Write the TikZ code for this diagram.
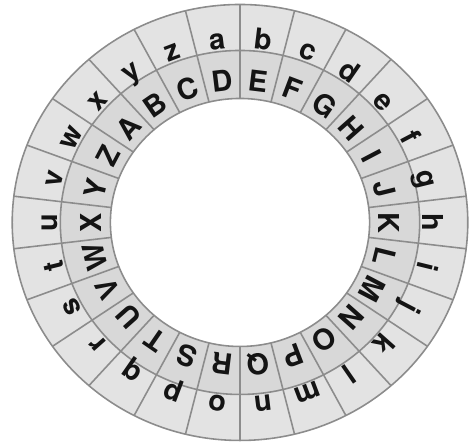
\documentclass[tikz,border=0pt]{standalone}
\usepackage{fontspec}
\setsansfont{TeX Gyre Heros}
\usepackage{tikz}
\usetikzlibrary{calc}
\usepackage{xcolor}
\definecolor{WheelOuter}{HTML}{E3E3E3}
\definecolor{WheelInner}{HTML}{D8D8D8}
\definecolor{WheelLine}{HTML}{8C8C8C}
\definecolor{WheelText}{HTML}{141414}

\begin{document}
\begin{tikzpicture}[
  x=1.045cm,y=1cm,
  ring/.style={draw=WheelLine,line width=0.45pt},
  glyph/.style={font=\sffamily\bfseries\fontsize{8.2}{9}\selectfont,
    text=WheelText,inner sep=0pt,text height=1.5ex,text depth=0.2ex}
]
\useasboundingbox (0cm,0cm) rectangle (4.75cm,4.43cm);

\begin{scope}[shift={(2.40cm,2.205cm)}]
% the two discs: outer plain alphabet, inner cipher alphabet
\fill[WheelOuter,even odd rule] (0,0) ellipse[x radius=2.278cm,y radius=2.18cm]
  (0,0) ellipse[x radius=1.797cm,y radius=1.72cm];
\fill[WheelInner,even odd rule] (0,0) ellipse[x radius=1.797cm,y radius=1.72cm]
  (0,0) ellipse[x radius=1.296cm,y radius=1.24cm];
\draw[ring] (0,0) ellipse[x radius=2.278cm,y radius=2.18cm];
\draw[ring] (0,0) ellipse[x radius=1.797cm,y radius=1.72cm];
\draw[ring] (0,0) ellipse[x radius=1.296cm,y radius=1.24cm];

\foreach \k in {0,...,25}
  \draw[ring] ({90+\k*360/26}:1.24) -- ({90+\k*360/26}:2.18);

\foreach \c [count=\i from 0] in {a,...,z}{
  \pgfmathsetmacro\ang{96.923-\i*360/26}
  \node[glyph,rotate={\ang-90}] (lo-\c) at (\ang:1.84) {\c};
}
\foreach \C [count=\j from 0] in {A,...,Z}{
  \pgfmathsetmacro\ang{96.923-(\j-3)*360/26}
  \node[glyph,rotate={\ang-90}] (up-\C) at (\ang:1.42) {\C};
}
\end{scope}

\end{tikzpicture}
\end{document}
